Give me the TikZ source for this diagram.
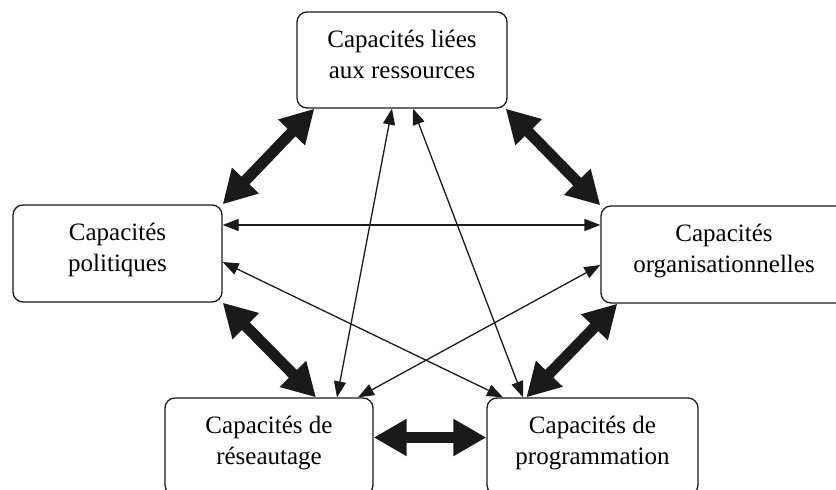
\documentclass[tikz,border=0pt]{standalone}
\usepackage{fontspec}
\setmainfont{Liberation Serif}
\usetikzlibrary{arrows.meta}
\definecolor{ink}{HTML}{1A1A1A}
\begin{document}
\begin{tikzpicture}[x=1pt,y=-1pt,
  capbox/.style={draw=ink, line width=1.3pt, rounded corners=10pt,
    align=center, inner sep=0pt, font=\fontsize{25}{31}\selectfont},
  thick link/.style={line width=11pt, draw=ink,
    {Triangle[length=33pt,width=35pt]}-{Triangle[length=33pt,width=35pt]}},
  thin link/.style={line width=1.3pt, draw=ink,
    {Triangle[length=16pt,width=12pt]}-{Triangle[length=16pt,width=12pt]}}]
\useasboundingbox (0,0) rectangle (836,490);

% capacity boxes
\node[capbox, minimum width=210pt, minimum height=96pt] (top) at (402,60)
  {Capacités liées\\aux ressources\\[-28pt]\strut};
\node[capbox, minimum width=209pt, minimum height=97pt] (pol) at (117.5,253.5)
  {Capacités\\politiques\\[-28pt]\strut};
\node[capbox, minimum width=246pt, minimum height=97pt] (org) at (724,254.5)
  {Capacités\\organisationnelles\\[-28pt]\strut};
\node[capbox, minimum width=208pt, minimum height=97pt] (res) at (269,446.5)
  {Capacités de\\réseautage\\[-28pt]\strut};
\node[capbox, minimum width=211pt, minimum height=97pt] (prog) at (592.5,446.5)
  {Capacités de\\programmation\\[-28pt]\strut};

% strong links between neighbouring boxes
\draw[thick link] ([xshift=18pt]top.south west) -- (pol.north east);
\draw[thick link] ([xshift=-2pt]top.south east) -- (org.north west);
\draw[thick link] (pol.south east) -- ([xshift=47pt]res.north);
\draw[thick link] ([xshift=17pt]org.south west) -- ([xshift=40pt]prog.north west);
\draw[thick link] ([yshift=9pt]res.east) -- ([yshift=9pt]prog.west);

% weaker links across the diagram
\draw[thin link] ([yshift=28.5pt]pol.east) -- ([yshift=29.5pt]org.west);
\draw[thin link] ([xshift=-10pt]top.south) -- ([xshift=68pt]res.north);
\draw[thin link] ([xshift=11pt]top.south) -- ([xshift=-69.5pt]prog.north);
\draw[thin link] ([yshift=-8.5pt]pol.east) -- ([xshift=-89.5pt]prog.north);
\draw[thin link] ([yshift=-10.5pt]org.west) -- ([xshift=89pt]res.north);
\end{tikzpicture}
\end{document}
